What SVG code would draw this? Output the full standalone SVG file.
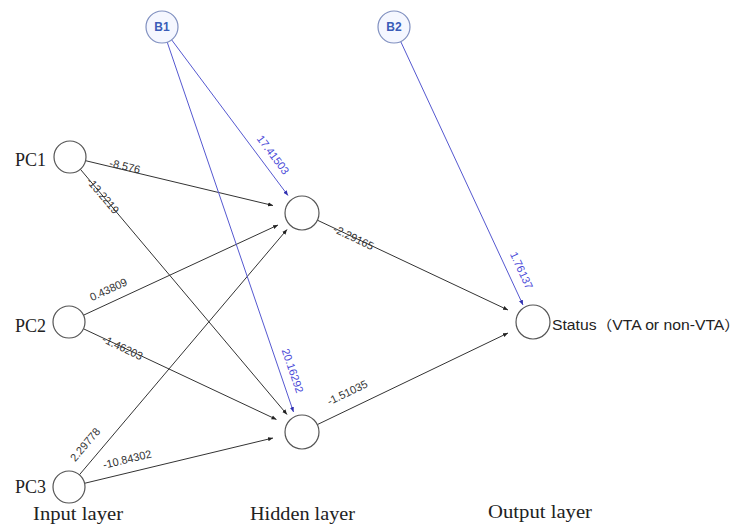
<svg xmlns="http://www.w3.org/2000/svg" width="750" height="527" viewBox="0 0 750 527">
<style>
.n{fill:#fff;stroke:#555;stroke-width:1.2}
.b{fill:#f5f7ff;stroke:#8090c0;stroke-width:1.2}
.e{stroke:#333;stroke-width:1;fill:none}
.eb{stroke:#5558d0;stroke-width:1;fill:none}
.w{font-family:"Liberation Sans",Arial,sans-serif;font-size:11px;fill:#333;text-anchor:middle;dominant-baseline:central}
.wb{font-family:"Liberation Sans",Arial,sans-serif;font-size:11px;fill:#4a4ad8;text-anchor:middle;dominant-baseline:central}
.s{font-family:"Liberation Serif","Times New Roman",serif;font-size:18px;fill:#222}
.bl{font-family:"Liberation Sans",Arial,sans-serif;font-size:12px;font-weight:bold;fill:#3a5cb8;text-anchor:middle;dominant-baseline:central}
.st{font-family:"Liberation Sans","Noto Sans CJK SC",sans-serif;font-size:14px;fill:#222}
</style>
<defs>
<marker id="a" viewBox="0 0 6 6" refX="6" refY="3" markerWidth="5" markerHeight="5" markerUnits="userSpaceOnUse" orient="auto"><path d="M0,0.5 L6,3 L0,5.5 Z" fill="#222"/></marker>
<marker id="ab" viewBox="0 0 6 6" refX="6" refY="3" markerWidth="5" markerHeight="5" markerUnits="userSpaceOnUse" orient="auto"><path d="M0,0.5 L6,3 L0,5.5 Z" fill="#3030b0"/></marker>
</defs>
<g id="connectors">
<line class="e" x1="85.6" y1="160.7" x2="273" y2="205.5" marker-end="url(#a)"/>
<line class="e" x1="80.3" y1="169.2" x2="287" y2="414.5" marker-end="url(#a)"/>
<line class="e" x1="83.5" y1="315.2" x2="278" y2="225" marker-end="url(#a)"/>
<line class="e" x1="83.5" y1="328.8" x2="276.5" y2="419.5" marker-end="url(#a)"/>
<line class="e" x1="79.4" y1="474.8" x2="287" y2="229.5" marker-end="url(#a)"/>
<line class="e" x1="84.5" y1="483.3" x2="273" y2="438" marker-end="url(#a)"/>
<line class="e" x1="317.4" y1="220.2" x2="508" y2="310" marker-end="url(#a)"/>
<line class="e" x1="317.3" y1="424.6" x2="508" y2="333" marker-end="url(#a)"/>
<line class="eb" x1="171.6" y1="39.8" x2="288" y2="195.5" marker-end="url(#ab)"/>
<line class="eb" x1="167.2" y1="42.1" x2="293.5" y2="412" marker-end="url(#ab)"/>
<line class="eb" x1="400.7" y1="41.5" x2="523" y2="305" marker-end="url(#ab)"/>
<text class="w" transform="translate(124,170) rotate(13.3)" y="-4">-8.576</text>
<text class="w" transform="translate(100,198) rotate(49.8)" y="-4">-13.2219</text>
<text class="w" transform="translate(110,293) rotate(-24.9)" y="-4">0.43809</text>
<text class="w" transform="translate(121,351) rotate(25.3)" y="-4">-1.46203</text>
<text class="w" transform="translate(88,447) rotate(-49.7)" y="-4">2.29778</text>
<text class="w" transform="translate(128,463) rotate(-13.5)" y="-4">-10.84302</text>
<text class="w" transform="translate(352,241) rotate(25.2)" y="-4">-2.29165</text>
<text class="w" transform="translate(349,396) rotate(-25.7)" y="-4">-1.51035</text>
<text class="wb" transform="translate(270,157) rotate(53.1)" y="-4">17.41503</text>
<text class="wb" transform="translate(289,372) rotate(71.2)" y="-4">20.16292</text>
<text class="wb" transform="translate(518,272) rotate(65.1)" y="-4">1.76137</text>
</g>
<g id="B1"><circle class="b" cx="162" cy="27" r="16"/><text class="bl" x="162" y="27">B1</text></g>
<g id="B2"><circle class="b" cx="394" cy="27" r="16"/><text class="bl" x="394" y="27">B2</text></g>
<g id="PC1"><circle class="n" cx="70" cy="157" r="16"/><text class="s" x="15" y="166">PC1</text></g>
<g id="PC2"><circle class="n" cx="69" cy="322" r="16"/><text class="s" x="15" y="332">PC2</text></g>
<g id="PC3"><circle class="n" cx="69" cy="487" r="16"/><text class="s" x="15" y="493">PC3</text></g>
<g id="H1"><circle class="n" cx="302" cy="213" r="17"/></g>
<g id="H2"><circle class="n" cx="302" cy="432" r="17"/></g>
<g id="Out"><circle class="n" cx="533" cy="322" r="17"/><text class="st" x="552" y="330" textLength="188" lengthAdjust="spacingAndGlyphs">Status（VTA  or non-VTA）</text></g>
<g id="layers">
<text class="s" x="33" y="520" textLength="90" lengthAdjust="spacingAndGlyphs">Input layer</text>
<text class="s" x="250" y="520" textLength="105" lengthAdjust="spacingAndGlyphs">Hidden layer</text>
<text class="s" x="488" y="518" textLength="104" lengthAdjust="spacingAndGlyphs">Output layer</text>
</g>
</svg>
